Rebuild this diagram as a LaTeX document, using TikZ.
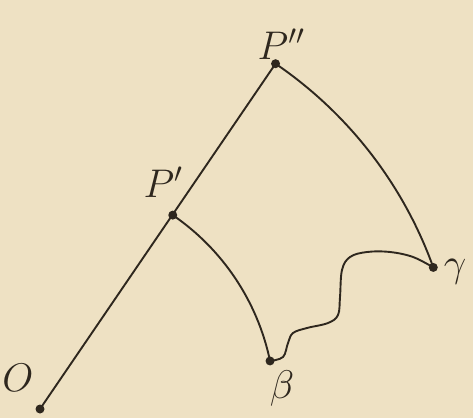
\documentclass[tikz,border=0pt]{standalone}
\usepackage{fix-cm}
\usetikzlibrary{positioning,calc}
\definecolor{paper}{HTML}{EEE1C3}
\definecolor{ink}{HTML}{2E271E}

\begin{document}
\begin{tikzpicture}[x=1pt, y=1pt,
  curve/.style={draw=ink, line width=1.9pt},
  dot/.style={fill=ink, circle, inner sep=0pt, minimum size=9pt},
  lbl/.style={text=ink, inner sep=0pt, font=\fontsize{40}{44}\selectfont}]

\fill[paper] (0,0) rectangle (473,418);
\useasboundingbox (0,0) rectangle (473,418);

% points, the two arcs are centred at O
\coordinate (O) at (40,9);
\coordinate (P1) at ($(O)+(55.6:235)$);
\coordinate (beta) at ($(O)+(11.8:235)$);
\coordinate (P2) at ($(O)+(55.7:418)$);
\coordinate (gamma) at ($(O)+(19.8:418)$);

\draw[curve] (O) -- (P2);
\draw[curve] (P1) arc[start angle=55.6, end angle=11.8, radius=235];
\draw[curve] (P2) arc[start angle=55.7, end angle=19.8, radius=418];
\draw[curve] plot[smooth, tension=0.6] coordinates {(beta) (283,61) (288,75) (293,85)
  (307,90) (328,95) (338,103) (340,121) (342,148) (350,161) (367,166) (390,166)
  (413,161) (gamma)};

\foreach \p in {O, P1, P2, beta, gamma} \node[dot] (d\p) at (\p) {};

\node (lO) [lbl] at (18,40) {$O$};
\node (lP1) [lbl] at (163,236) {$P'$};
\node (lP2) [lbl] at (281,374) {$P''$};
\node (lbeta) [lbl] at (282,30) {$\beta$};
\node (lgamma) [lbl] at (455,146) {$\gamma$};
\end{tikzpicture}
\end{document}
